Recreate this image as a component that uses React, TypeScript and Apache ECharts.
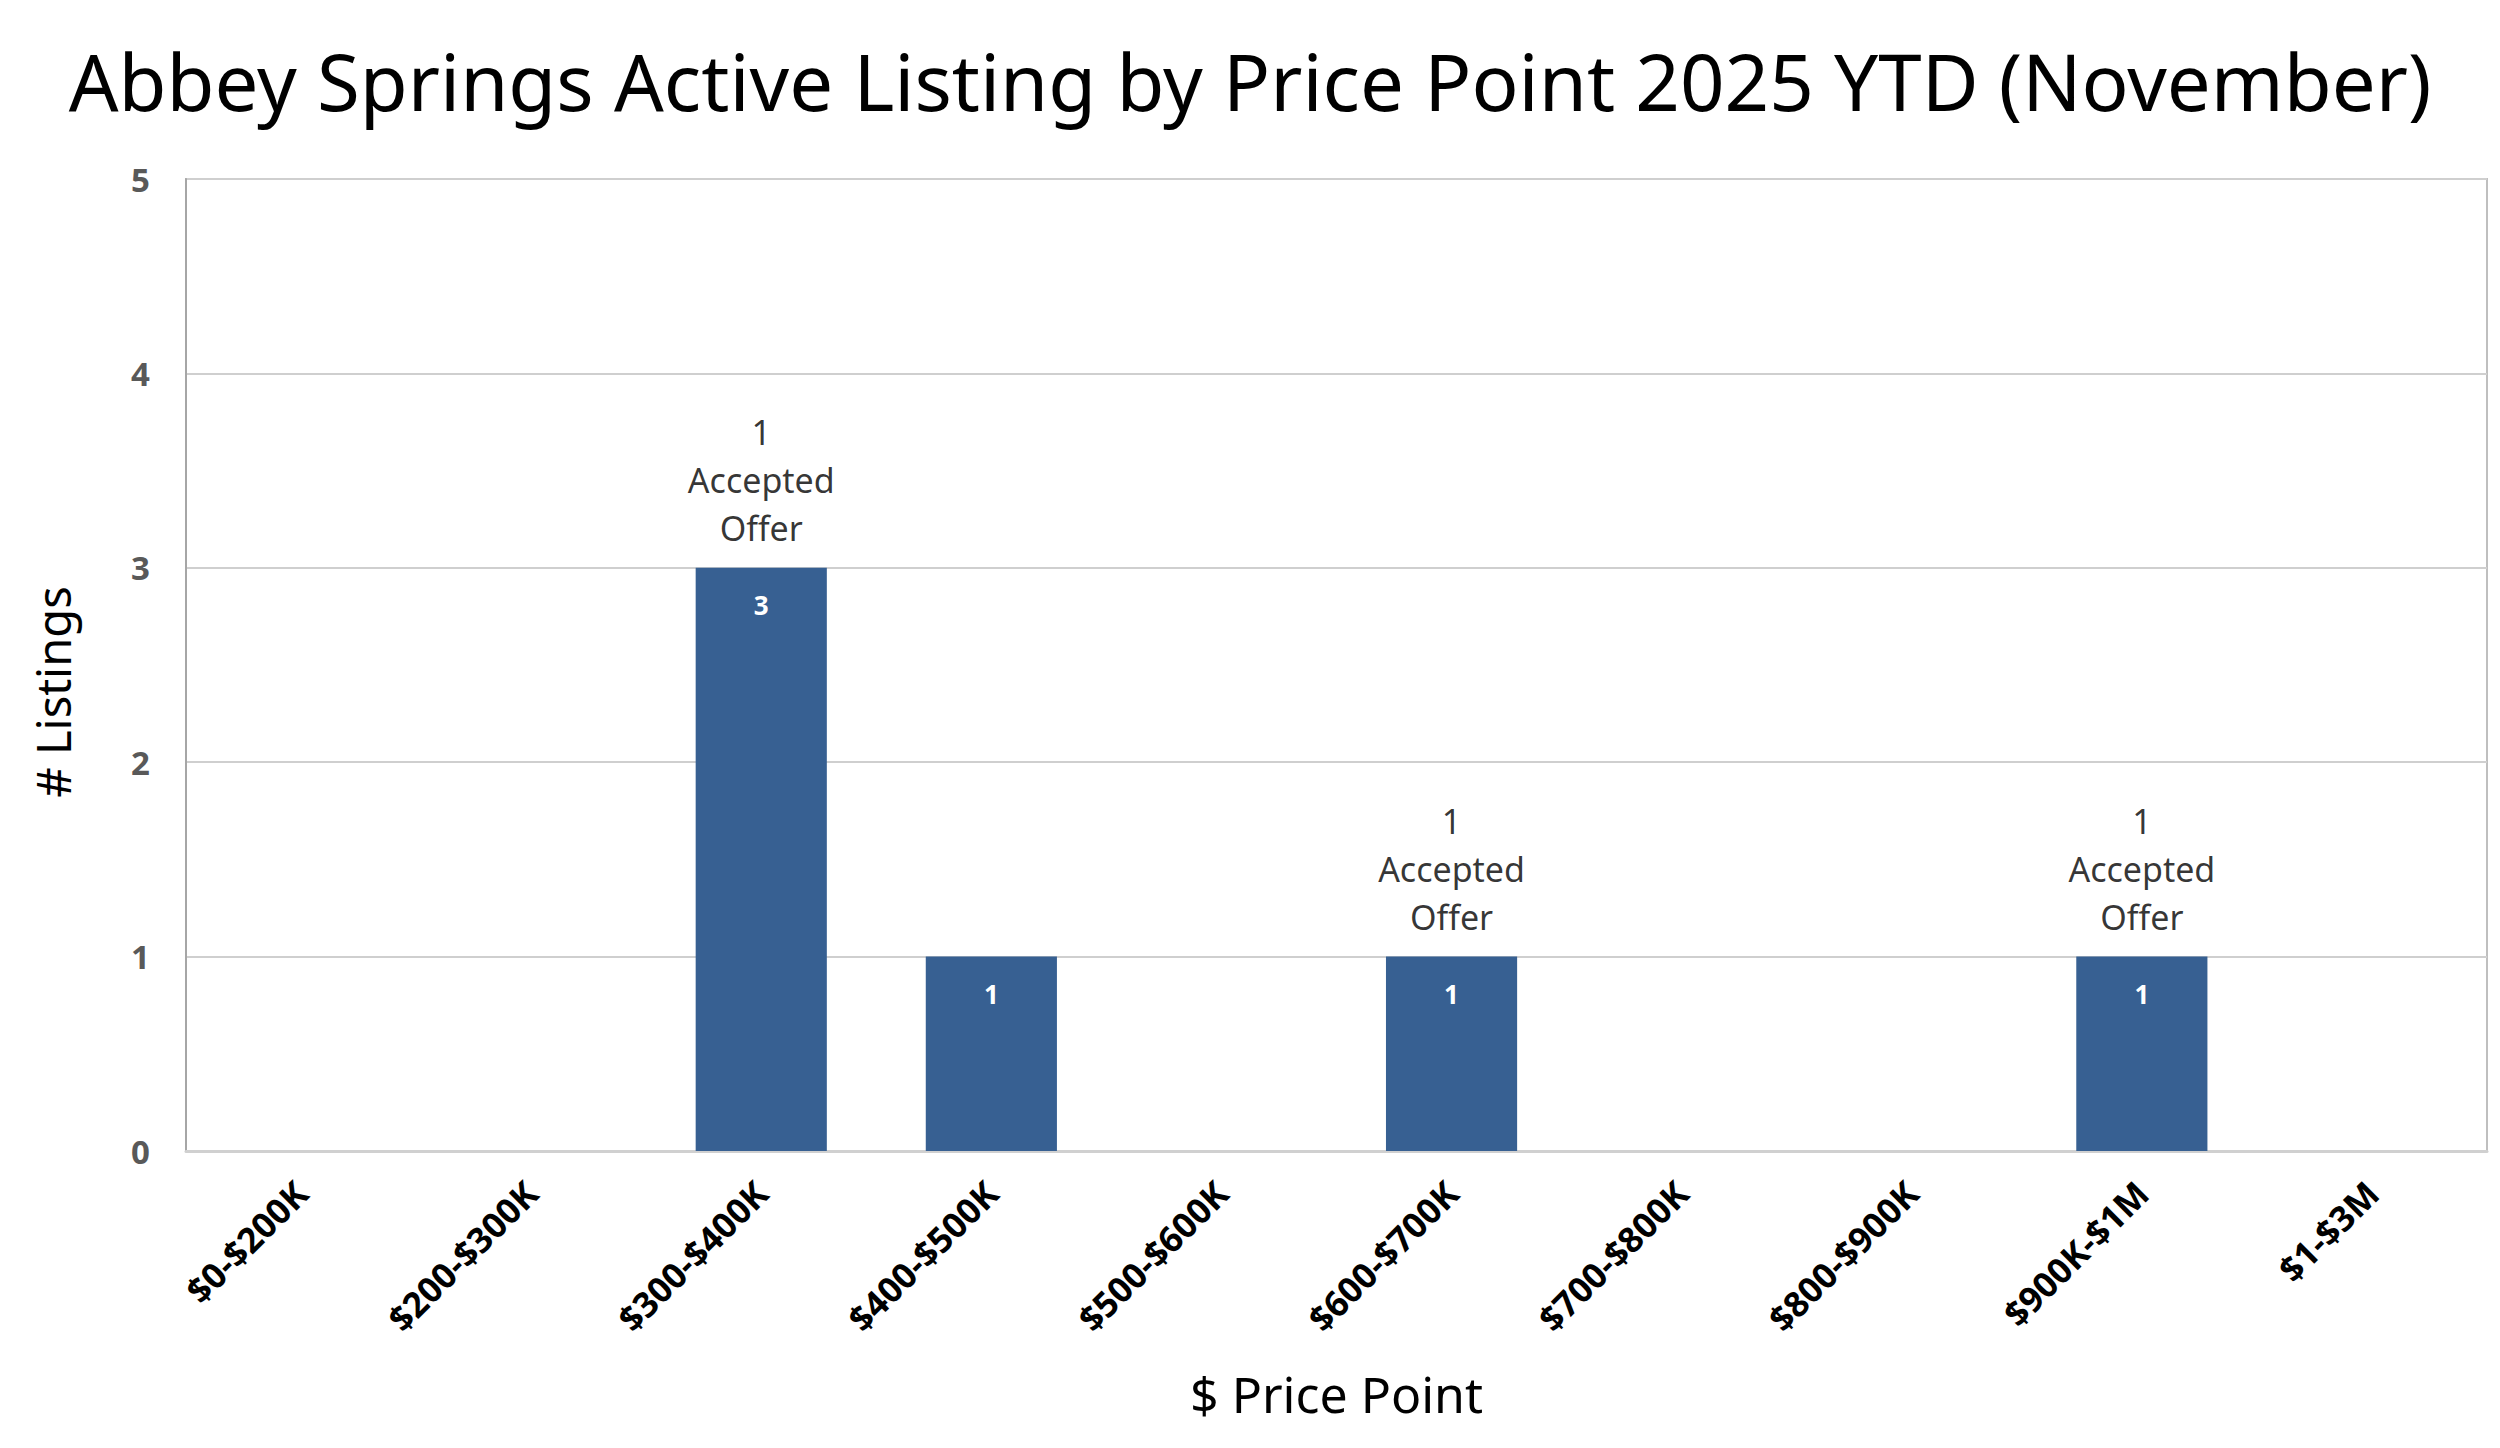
import React, { useEffect, useRef } from "react";
import * as echarts from "echarts";

const categories = [
  "$0-$200K",
  "$200-$300K",
  "$300-$400K",
  "$400-$500K",
  "$500-$600K",
  "$600-$700K",
  "$700-$800K",
  "$800-$900K",
  "$900K-$1M",
  "$1-$3M",
];
const listings = [0, 0, 3, 1, 0, 1, 0, 0, 1, 0];
const notes = ["", "", "1\nAccepted\nOffer", "", "", "1\nAccepted\nOffer", "", "", "1\nAccepted\nOffer", ""];
const yTicks = [0, 1, 2, 3, 4, 5];

const FONT = "'Noto Sans', 'Open Sans', sans-serif";

export default function App() {
  const ref = useRef<HTMLDivElement>(null);
  useEffect(() => {
    document.body.style.margin = "0";
    const chart = echarts.init(ref.current!, undefined, { renderer: "svg" });
    chart.setOption({
      animation: false,
      backgroundColor: "#ffffff",
      textStyle: { fontFamily: FONT },
      title: {
        text: "Abbey Springs Active Listing by Price Point 2025 YTD (November)",
        left: "center",
        top: 37,
        textStyle: { fontFamily: FONT, fontSize: 78, fontWeight: "normal", color: "#000000" },
      },
      graphic: [
        {
          type: "text",
          x: 53,
          y: 692,
          rotation: Math.PI / 2,
          style: {
            text: "# Listings",
            fontFamily: FONT,
            fontSize: 47,
            fill: "#000000",
            align: "center",
            verticalAlign: "middle",
          },
        },
      ],
      grid: {
        left: 186,
        right: 13,
        top: 179,
        bottom: 297,
        show: true,
        borderColor: "#bfbfbf",
        borderWidth: 2,
      },
      xAxis: {
        type: "category",
        data: categories,
        name: "$ Price Point",
        nameLocation: "middle",
        nameGap: 218,
        nameTextStyle: { fontFamily: FONT, fontSize: 50, color: "#000000" },
        axisLine: { show: true, lineStyle: { color: "#d0d0d0", width: 3 } },
        axisTick: { show: false },
        axisLabel: {
          interval: 0,
          rotate: 45,
          margin: 36,
          fontFamily: FONT,
          fontSize: 35,
          fontWeight: "bold",
          color: "#000000",
        },
      },
      yAxis: {
        type: "value",
        min: yTicks[0],
        max: yTicks[yTicks.length - 1],
        interval: 1,
        axisLine: { show: true, lineStyle: { color: "#a6a6a6", width: 2 } },
        axisTick: { show: false },
        splitLine: { show: true, lineStyle: { color: "#cfcfcf", width: 2 } },
        axisLabel: {
          margin: 36,
          fontFamily: FONT,
          fontSize: 33,
          fontWeight: "bold",
          color: "#595959",
        },
      },
      series: [
        {
          type: "bar",
          data: listings,
          barWidth: "57%",
          itemStyle: { color: "#376092" },
          label: {
            show: true,
            position: "insideTop",
            distance: 24,
            fontFamily: FONT,
            fontSize: 26,
            fontWeight: "bold",
            color: "#ffffff",
            formatter: (p: any) => (p.value > 0 ? String(p.value) : ""),
          },
        },
        {
          type: "scatter",
          data: listings,
          symbolSize: 0,
          silent: true,
          label: {
            show: true,
            position: "top",
            distance: 16,
            fontFamily: FONT,
            fontSize: 34,
            lineHeight: 48,
            align: "center",
            color: "#000000",
            formatter: (p: any) => notes[p.dataIndex],
          },
        },
      ],
    });
    return () => chart.dispose();
  }, []);
  return <div ref={ref} style={{ width: 2500, height: 1448 }} />;
}
